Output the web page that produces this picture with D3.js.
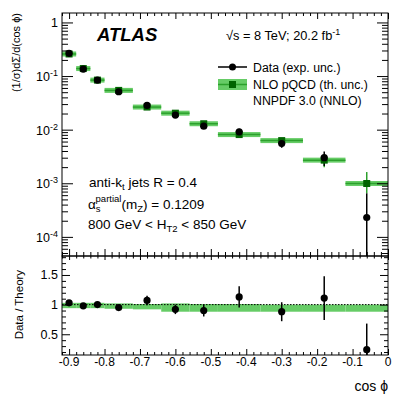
<!DOCTYPE html>
<html>
<head>
<meta charset="utf-8">
<script src="https://cdn.jsdelivr.net/npm/d3@7"></script>
<style>
  body { margin: 0; background: #fff; }
  svg { font-family: "Liberation Sans", Arial, sans-serif; }
  .axis path { display: none; }
  .axis line { stroke: #000; }
</style>
</head>
<body>
<div class="chart"></div>
<script>
//----Data----
const binLo = [-0.92, -0.88, -0.84, -0.80, -0.72, -0.64, -0.56, -0.48, -0.36, -0.24, -0.12]
const binHi = [-0.88, -0.84, -0.80, -0.72, -0.64, -0.56, -0.48, -0.36, -0.24, -0.12, 0.0]
const binMid = [-0.90, -0.86, -0.82, -0.76, -0.68, -0.60, -0.52, -0.42, -0.30, -0.18, -0.06]

// upper panel: normalised cross section
const dataVal = [0.265, 0.135, 0.084, 0.051, 0.0283, 0.0187, 0.0116, 0.0091, 0.0055, 0.0030, 0.00023]
const dataErrUp = [0.005, 0.003, 0.002, 0.002, 0.002, 0.0015, 0.0013, 0.0013, 0.0009, 0.0009, 0.00042]
const dataErrDn = [0.005, 0.003, 0.002, 0.002, 0.002, 0.0015, 0.0013, 0.0013, 0.0009, 0.0009, 0.00023]
const theoryVal = [0.258, 0.138, 0.084, 0.054, 0.0264, 0.0203, 0.0129, 0.0081, 0.00625, 0.0027, 0.00099]
const theoryErrUp = [0, 0, 0, 0, 0, 0, 0, 0, 0, 0.0003, 0.00063]
const theoryErrDn = [0, 0, 0, 0, 0, 0, 0, 0, 0, 0.0007, 0.00034]

// lower panel: data / theory
const ratioVal = [1.03, 0.98, 1.00, 0.95, 1.07, 0.92, 0.90, 1.13, 0.88, 1.11, 0.24]
const ratioErrUp = [0.02, 0.02, 0.03, 0.04, 0.08, 0.08, 0.10, 0.18, 0.16, 0.37, 0.44]
const ratioErrDn = [0.02, 0.02, 0.03, 0.04, 0.08, 0.08, 0.10, 0.18, 0.16, 0.37, 0.24]
const bandLo = [0.94, 0.94, 0.94, 0.93, 0.92, 0.88, 0.88, 0.88, 0.88, 0.88, 0.88]
const bandHi = [1.03, 1.03, 1.03, 1.02, 1.01, 1.02, 1.01, 1.01, 1.00, 1.00, 1.00]

const xMajor = [-0.9, -0.8, -0.7, -0.6, -0.5, -0.4, -0.3, -0.2, -0.1, 0]
const xMajorLabels = ["-0.9", "-0.8", "-0.7", "-0.6", "-0.5", "-0.4", "-0.3", "-0.2", "-0.1", "0"]
const yDecades = [1, 0.1, 0.01, 0.001, 0.0001]
const yDecadeExp = ["", "-1", "-2", "-3", "-4"]
const rMajor = [0.5, 1, 1.5]

const lightGreen = "#66cc66"
const midGreen = "#2ca02c"
const darkGreen = "#006400"

//----Chart Initialization----
const W = 409, H = 398
const left = 62, right = 388
const upTop = 13, upBot = 256
const loTop = 256, loBot = 355

const svg = d3.select(".chart").append("svg")
    .attr("width", W)
    .attr("height", H)

const x = d3.scaleLinear().domain([-0.92, 0]).range([left, right])
const y = d3.scaleLog().domain([4.4e-5, 1.5]).range([upBot, upTop])
const yr = d3.scaleLinear().domain([0.15, 1.82]).range([loBot, loTop])

const xMinor = d3.range(-46, 1).map(i => i * 0.02).filter(v => Math.abs(Math.round(v * 10) - v * 10) > 1e-6)
const yMinor = []
yDecades.concat([1e-5]).forEach(d => { for (let k = 2; k <= 9; k++) yMinor.push(d * k) })
const yMinorIn = yMinor.filter(v => v >= y.domain()[0] && v <= y.domain()[1])
const rMinor = d3.range(2, 19).map(i => i / 10).filter(v => !rMajor.includes(v))

function addAxis(g, axis) {
    g.call(axis)
    g.selectAll("text").remove()
    return g
}

// clip for the panels
const defs = svg.append("defs")
defs.append("clipPath").attr("id", "clipUp").append("rect")
    .attr("x", left).attr("y", upTop).attr("width", right - left).attr("height", upBot - upTop)
defs.append("clipPath").attr("id", "clipLo").append("rect")
    .attr("x", left).attr("y", loTop).attr("width", right - left).attr("height", loBot - loTop)

//----Upper panel----
const up = svg.append("g").attr("clip-path", "url(#clipUp)")

// theory bars
up.selectAll(".thbar")
    .data(theoryVal)
    .enter().append("rect")
    .attr("x", (d, i) => x(binLo[i]))
    .attr("width", (d, i) => x(binHi[i]) - x(binLo[i]))
    .attr("y", d => y(d) - 2.5)
    .attr("height", 5)
    .attr("fill", lightGreen)

up.selectAll(".thline")
    .data(theoryVal)
    .enter().append("line")
    .attr("x1", (d, i) => x(binLo[i]))
    .attr("x2", (d, i) => x(binHi[i]))
    .attr("y1", d => y(d))
    .attr("y2", d => y(d))
    .attr("stroke", midGreen)
    .attr("stroke-width", 1.5)

up.selectAll(".therr")
    .data(theoryVal)
    .enter().append("line")
    .attr("x1", (d, i) => x(binMid[i]))
    .attr("x2", (d, i) => x(binMid[i]))
    .attr("y1", (d, i) => y(d + theoryErrUp[i]))
    .attr("y2", (d, i) => y(d - theoryErrDn[i]))
    .attr("stroke", midGreen)
    .attr("stroke-width", 1.5)

// data error bars
up.selectAll(".derr")
    .data(dataVal)
    .enter().append("line")
    .attr("x1", (d, i) => x(binMid[i]))
    .attr("x2", (d, i) => x(binMid[i]))
    .attr("y1", (d, i) => y(d + dataErrUp[i]))
    .attr("y2", (d, i) => d - dataErrDn[i] > 0 ? y(d - dataErrDn[i]) : upBot + 5)
    .attr("stroke", "#000")
    .attr("stroke-width", 1.5)

up.selectAll(".thsq")
    .data(theoryVal)
    .enter().append("rect")
    .attr("x", (d, i) => x(binMid[i]) - 3.5)
    .attr("y", d => y(d) - 3.5)
    .attr("width", 7)
    .attr("height", 7)
    .attr("fill", darkGreen)

up.selectAll(".dpt")
    .data(dataVal)
    .enter().append("circle")
    .attr("cx", (d, i) => x(binMid[i]))
    .attr("cy", d => y(d))
    .attr("r", 3.6)
    .attr("fill", "#000")

// upper axes
addAxis(svg.append("g").attr("class", "axis").attr("transform", `translate(${left},0)`),
    d3.axisLeft(y).tickValues(yDecades).tickSizeInner(-11).tickSizeOuter(0))
addAxis(svg.append("g").attr("class", "axis").attr("transform", `translate(${left},0)`),
    d3.axisLeft(y).tickValues(yMinorIn).tickSizeInner(-6).tickSizeOuter(0))
addAxis(svg.append("g").attr("class", "axis").attr("transform", `translate(${right},0)`),
    d3.axisRight(y).tickValues(yDecades).tickSizeInner(-11).tickSizeOuter(0))
addAxis(svg.append("g").attr("class", "axis").attr("transform", `translate(${right},0)`),
    d3.axisRight(y).tickValues(yMinorIn).tickSizeInner(-6).tickSizeOuter(0))
addAxis(svg.append("g").attr("class", "axis").attr("transform", `translate(0,${upTop})`),
    d3.axisTop(x).tickValues(xMajor).tickSizeInner(-6).tickSizeOuter(0))
addAxis(svg.append("g").attr("class", "axis").attr("transform", `translate(0,${upTop})`),
    d3.axisTop(x).tickValues(xMinor).tickSizeInner(-3).tickSizeOuter(0))
addAxis(svg.append("g").attr("class", "axis").attr("transform", `translate(0,${upBot})`),
    d3.axisBottom(x).tickValues(xMajor).tickSizeInner(-7).tickSizeOuter(0))
addAxis(svg.append("g").attr("class", "axis").attr("transform", `translate(0,${upBot})`),
    d3.axisBottom(x).tickValues(xMinor).tickSizeInner(-4).tickSizeOuter(0))

// log labels with superscripts
const ylab = svg.append("g").selectAll("text")
    .data(yDecades)
    .enter().append("text")
    .attr("x", left - 4)
    .attr("y", d => y(d) + 5)
    .attr("text-anchor", "end")
    .attr("font-size", 12.5)
ylab.filter((d, i) => i == 0).text("1")
ylab.filter((d, i) => i > 0).each(function(d, i) {
    const t = d3.select(this)
    t.append("tspan").text("10")
    t.append("tspan").attr("dy", -5).attr("font-size", 9).text(yDecadeExp[i + 1])
})

//----Lower panel----
const lo = svg.append("g").attr("clip-path", "url(#clipLo)")

lo.selectAll(".band")
    .data(bandLo)
    .enter().append("rect")
    .attr("x", (d, i) => x(binLo[i]))
    .attr("width", (d, i) => x(binHi[i]) - x(binLo[i]))
    .attr("y", (d, i) => yr(bandHi[i]))
    .attr("height", (d, i) => yr(d) - yr(bandHi[i]))
    .attr("fill", lightGreen)

lo.append("line")
    .attr("x1", left).attr("x2", right)
    .attr("y1", yr(1)).attr("y2", yr(1))
    .attr("stroke", "#000")
    .attr("stroke-dasharray", "1.5,1.5")

lo.selectAll(".rerr")
    .data(ratioVal)
    .enter().append("line")
    .attr("x1", (d, i) => x(binMid[i]))
    .attr("x2", (d, i) => x(binMid[i]))
    .attr("y1", (d, i) => yr(d + ratioErrUp[i]))
    .attr("y2", (d, i) => yr(d - ratioErrDn[i]))
    .attr("stroke", "#000")
    .attr("stroke-width", 1.5)

lo.selectAll(".rpt")
    .data(ratioVal)
    .enter().append("circle")
    .attr("cx", (d, i) => x(binMid[i]))
    .attr("cy", d => yr(d))
    .attr("r", 3.6)
    .attr("fill", "#000")

// lower axes
addAxis(svg.append("g").attr("class", "axis").attr("transform", `translate(${left},0)`),
    d3.axisLeft(yr).tickValues(rMajor).tickSizeInner(-8).tickSizeOuter(0))
addAxis(svg.append("g").attr("class", "axis").attr("transform", `translate(${left},0)`),
    d3.axisLeft(yr).tickValues(rMinor).tickSizeInner(-4).tickSizeOuter(0))
addAxis(svg.append("g").attr("class", "axis").attr("transform", `translate(${right},0)`),
    d3.axisRight(yr).tickValues(rMajor).tickSizeInner(-8).tickSizeOuter(0))
addAxis(svg.append("g").attr("class", "axis").attr("transform", `translate(${right},0)`),
    d3.axisRight(yr).tickValues(rMinor).tickSizeInner(-4).tickSizeOuter(0))
addAxis(svg.append("g").attr("class", "axis").attr("transform", `translate(0,${loTop})`),
    d3.axisTop(x).tickValues(xMajor).tickSizeInner(-4).tickSizeOuter(0))
addAxis(svg.append("g").attr("class", "axis").attr("transform", `translate(0,${loTop})`),
    d3.axisTop(x).tickValues(xMinor).tickSizeInner(-2.5).tickSizeOuter(0))
addAxis(svg.append("g").attr("class", "axis").attr("transform", `translate(0,${loBot})`),
    d3.axisBottom(x).tickValues(xMajor).tickSizeInner(-6).tickSizeOuter(0))
addAxis(svg.append("g").attr("class", "axis").attr("transform", `translate(0,${loBot})`),
    d3.axisBottom(x).tickValues(xMinor).tickSizeInner(-3).tickSizeOuter(0))

svg.append("g").selectAll("text")
    .data(rMajor)
    .enter().append("text")
    .attr("x", left - 4)
    .attr("y", d => yr(d) + 4.5)
    .attr("text-anchor", "end")
    .attr("font-size", 12.5)
    .text(d => d)

svg.append("g").selectAll("text")
    .data(xMajor)
    .enter().append("text")
    .attr("x", d => x(d))
    .attr("y", loBot + 11)
    .attr("text-anchor", "middle")
    .attr("font-size", 12)
    .text((d, i) => xMajorLabels[i])

// frames
svg.append("rect").attr("x", left).attr("y", upTop).attr("width", right - left).attr("height", upBot - upTop)
    .attr("fill", "none").attr("stroke", "#000")
svg.append("rect").attr("x", left).attr("y", loTop).attr("width", right - left).attr("height", loBot - loTop)
    .attr("fill", "none").attr("stroke", "#000")

//----Labels----
svg.append("text")
    .attr("transform", `translate(20,${upTop}) rotate(-90)`)
    .attr("text-anchor", "end")
    .attr("font-size", 11)
    .text("(1/σ)dΣ/d(cos ϕ)")

svg.append("text")
    .attr("transform", `translate(23,${yr(1)}) rotate(-90)`)
    .attr("text-anchor", "middle")
    .attr("font-size", 11.5)
    .text("Data / Theory")

svg.append("text")
    .attr("x", right)
    .attr("y", 391)
    .attr("text-anchor", "end")
    .attr("font-size", 14)
    .text("cos ϕ")

svg.append("text")
    .attr("x", 97)
    .attr("y", 41)
    .attr("font-size", 18.5)
    .attr("font-weight", "bold")
    .attr("font-style", "italic")
    .text("ATLAS")

const sq = svg.append("text")
    .attr("x", 226)
    .attr("y", 40)
    .attr("font-size", 12.8)
sq.append("tspan").text("√s = 8 TeV; 20.2 fb")
sq.append("tspan").attr("dy", -5).attr("font-size", 9).text("-1")

// legend
const lg = svg.append("g")
lg.append("line").attr("x1", 218).attr("x2", 247).attr("y1", 67).attr("y2", 67).attr("stroke", "#000").attr("stroke-width", 1.5)
lg.append("circle").attr("cx", 232.5).attr("cy", 67).attr("r", 3.5).attr("fill", "#000")
lg.append("rect").attr("x", 218).attr("y", 79).attr("width", 29).attr("height", 11).attr("fill", lightGreen)
lg.append("line").attr("x1", 218).attr("x2", 247).attr("y1", 84.5).attr("y2", 84.5).attr("stroke", midGreen).attr("stroke-width", 1.5)
lg.append("rect").attr("x", 229).attr("y", 81).attr("width", 7).attr("height", 7).attr("fill", darkGreen)
lg.append("text").attr("x", 253).attr("y", 71.5).attr("font-size", 12.3).text("Data (exp. unc.)")
lg.append("text").attr("x", 253).attr("y", 89).attr("font-size", 12.3).text("NLO pQCD (th. unc.)")
lg.append("text").attr("x", 253).attr("y", 105).attr("font-size", 12.3).text("NNPDF 3.0 (NNLO)")

// annotations
const a1 = svg.append("text").attr("x", 89).attr("y", 187).attr("font-size", 13.5)
a1.append("tspan").text("anti-k")
a1.append("tspan").attr("dy", 3).attr("font-size", 9.5).text("t")
a1.append("tspan").attr("dy", -3).text(" jets R = 0.4")

const a2 = svg.append("text").attr("x", 88).attr("y", 209).attr("font-size", 13.5)
a2.append("tspan").text("α")
a2.append("tspan").attr("dy", 3).attr("font-size", 9.5).text("s")
a2.append("tspan").attr("dx", -5).attr("dy", -10).attr("font-size", 9.5).text("partial")
a2.append("tspan").attr("dy", 7).text("(m")
a2.append("tspan").attr("dy", 3).attr("font-size", 9.5).text("Z")
a2.append("tspan").attr("dy", -3).text(") = 0.1209")

const a3 = svg.append("text").attr("x", 88).attr("y", 229).attr("font-size", 13.5)
a3.append("tspan").text("800 GeV < H")
a3.append("tspan").attr("dy", 3).attr("font-size", 9.5).text("T2")
a3.append("tspan").attr("dy", -3).text(" < 850 GeV")
</script>
</body>
</html>
